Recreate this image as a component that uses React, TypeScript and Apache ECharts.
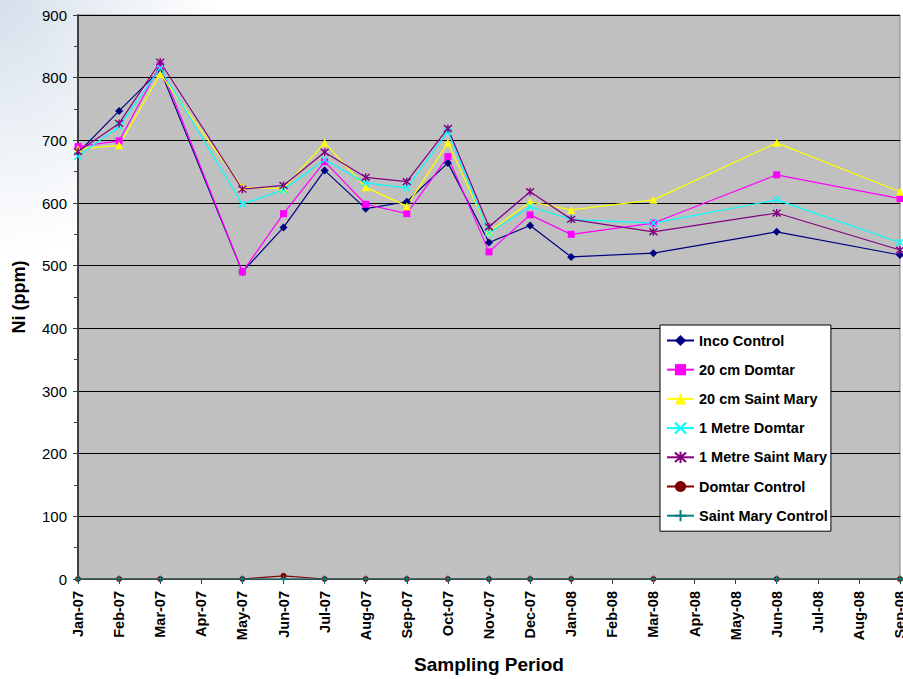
import React, { useEffect, useRef } from "react";
import * as echarts from "echarts";

// Monthly axis labels (every month is a tick, data only on sampled months)
const months = [
  "Jan-07", "Feb-07", "Mar-07", "Apr-07", "May-07", "Jun-07", "Jul-07",
  "Aug-07", "Sep-07", "Oct-07", "Nov-07", "Dec-07", "Jan-08", "Feb-08",
  "Mar-08", "Apr-08", "May-08", "Jun-08", "Jul-08", "Aug-08", "Sep-08",
];

// Months on which samples were taken
const sampleMonths = [
  "Jan-07", "Feb-07", "Mar-07", "May-07", "Jun-07", "Jul-07", "Aug-07",
  "Sep-07", "Oct-07", "Nov-07", "Dec-07", "Jan-08", "Mar-08", "Jun-08", "Sep-08",
];

// Ni concentrations (ppm) per sampling month
const incoControl = [680, 747, 812, 490, 561, 652, 591, 602, 664, 537, 564, 514, 520, 554, 517];
const domtar20cm = [690, 699, 820, 490, 583, 666, 598, 583, 674, 522, 581, 550, 568, 645, 607];
const saintMary20cm = [686, 692, 806, 625, 623, 696, 625, 595, 696, 554, 602, 589, 605, 696, 618];
const domtar1m = [675, 722, 815, 598, 621, 669, 632, 624, 714, 552, 594, 574, 568, 605, 537];
const saintMary1m = [682, 727, 825, 622, 628, 681, 641, 634, 719, 562, 618, 574, 554, 584, 525];
const domtarControl = [0, 0, 0, 0, 5, 0, 0, 0, 0, 0, 0, 0, 0, 0, 0];
const saintMaryControl = [0, 0, 0, 0, 0, 0, 0, 0, 0, 0, 0, 0, 0, 0, 0];

const yTicks = { min: 0, max: 900, interval: 100 };

const CROSS = "path://M0,0L10,10M10,0L0,10";
const ASTERISK = "path://M0,0L10,10M10,0L0,10M5,-1L5,11";
const PLUS = "path://M5,0L5,10M0,5L10,5";

const FONT = "Arial, 'Liberation Sans', sans-serif";

function pairs(values: number[]) {
  return sampleMonths.map((m, i) => [m, values[i]]);
}

export default function App() {
  const ref = useRef<HTMLDivElement>(null);

  useEffect(() => {
    if (!ref.current) return;
    const chart = echarts.init(ref.current, undefined, { renderer: "svg" });

    const mk = (
      name: string,
      values: number[],
      color: string,
      symbol: string,
      symbolSize: number,
      stroked = false
    ) => ({
      name,
      type: "line",
      data: pairs(values),
      symbol,
      symbolSize,
      showSymbol: true,
      lineStyle: { color, width: 1.2 },
      itemStyle: stroked
        ? { color, borderColor: color, borderWidth: 1.4 }
        : { color, borderWidth: 0 },
      emphasis: { disabled: true },
    });

    chart.setOption({
      animation: false,
      backgroundColor: "transparent",
      textStyle: { fontFamily: FONT },
      grid: {
        left: 78,
        right: 3,
        top: 15,
        bottom: 100,
        outerBoundsMode: "none",
        show: true,
        backgroundColor: "#C0C0C0",
        borderColor: "#808080",
        borderWidth: 1,
      },
      legend: {
        orient: "vertical",
        left: 660,
        top: 325,
        backgroundColor: "#ffffff",
        borderColor: "#000000",
        borderWidth: 1,
        padding: [8, 3, 8, 6],
        itemGap: 14.2,
        itemWidth: 27,
        itemHeight: 14,
        textStyle: { fontFamily: FONT, fontWeight: "bold", fontSize: 14.5, color: "#000" },
      },
      xAxis: {
        type: "category",
        data: months,
        boundaryGap: false,
        name: "Sampling Period",
        nameLocation: "middle",
        nameGap: 76,
        nameTextStyle: { fontFamily: FONT, fontWeight: "bold", fontSize: 19, color: "#000" },
        axisLine: { show: true, lineStyle: { color: "#404040", width: 1 } },
        axisTick: { show: true, alignWithLabel: true, length: 5, lineStyle: { color: "#404040" } },
        axisLabel: {
          rotate: 90,
          interval: 0,
          margin: 12,
          fontFamily: FONT,
          fontWeight: "bold",
          fontSize: 14.5,
          color: "#000",
        },
        splitLine: { show: false },
      },
      yAxis: {
        type: "value",
        min: yTicks.min,
        max: yTicks.max,
        interval: yTicks.interval,
        name: "Ni (ppm)",
        nameLocation: "middle",
        nameGap: 50,
        nameRotate: 90,
        nameTextStyle: { fontFamily: FONT, fontWeight: "bold", fontSize: 18, color: "#000" },
        axisLine: { show: true, lineStyle: { color: "#404040", width: 2 } },
        axisTick: { show: true, length: 5, lineStyle: { color: "#404040" } },
        minorTick: { show: true, splitNumber: 2, length: 4, lineStyle: { color: "#404040" } },
        axisLabel: { fontFamily: FONT, fontSize: 15, color: "#000", margin: 11 },
        splitLine: { show: true, lineStyle: { color: "#000000", width: 1 } },
      },
      series: [
        mk("Inco Control", incoControl, "#000080", "diamond", 8),
        mk("20 cm Domtar", domtar20cm, "#FF00FF", "rect", 7),
        mk("20 cm Saint Mary", saintMary20cm, "#FFFF00", "triangle", 8),
        mk("1 Metre Domtar", domtar1m, "#00FFFF", CROSS, 7, true),
        mk("1 Metre Saint Mary", saintMary1m, "#800080", ASTERISK, 8, true),
        mk("Domtar Control", domtarControl, "#800000", "circle", 6),
        mk("Saint Mary Control", saintMaryControl, "#008080", PLUS, 7, true),
      ],
    });

    return () => chart.dispose();
  }, []);

  return (
    <div
      style={{
        position: "absolute",
        left: 0,
        top: 0,
        width: 903,
        height: 679,
        background:
          "radial-gradient(ellipse 220px 260px at 0 0, #d5dfeb 0%, #eef2f7 55%, #ffffff 100%)",
      }}
    >
      <div ref={ref} style={{ width: 903, height: 679 }} />
    </div>
  );
}
